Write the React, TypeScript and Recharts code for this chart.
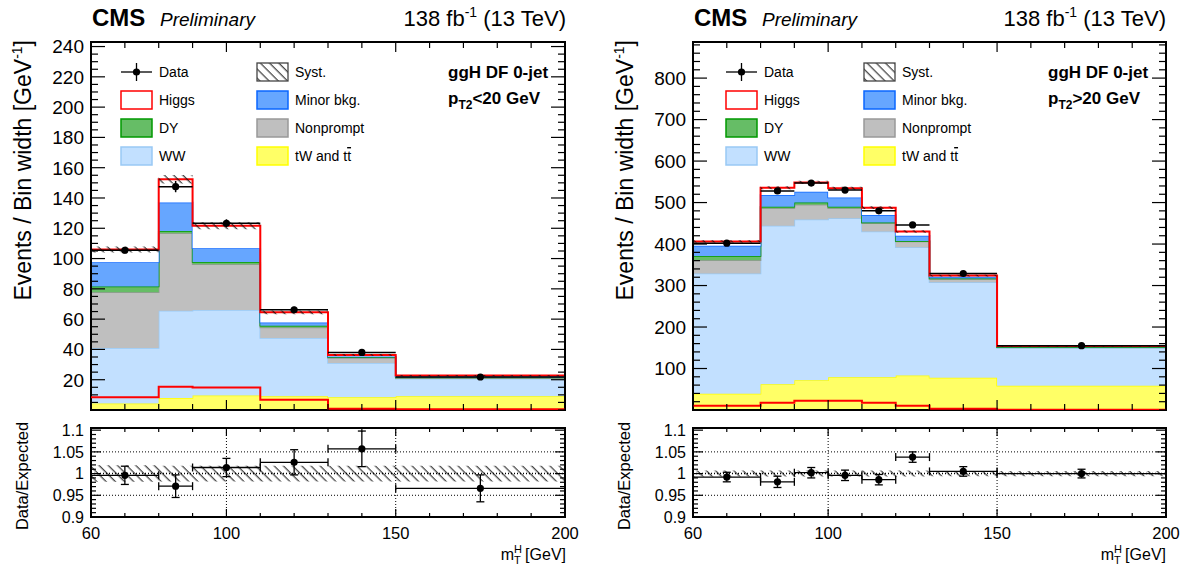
import React from 'react';
import { Area, ComposedChart, ErrorBar, Line, ReferenceArea, ReferenceLine, Scatter, XAxis, YAxis } from 'recharts';

const FONT = '"Liberation Sans", Arial, Helvetica, sans-serif';

const TT_FILL = '#ffff66';
const TT_LINE = '#ffff00';
const WW_FILL = '#c2e0ff';
const WW_LINE = '#99c9f5';
const NP_FILL = '#bfbfbf';
const NP_LINE = '#999999';
const DY_FILL = '#66bd66';
const DY_LINE = '#009900';
const MINOR_FILL = '#66a6ff';
const MINOR_LINE = '#0a66ff';
const HIGGS_LINE = '#ff0000';

// left: ggH DF 0-jet, pT2 < 20 GeV
const edgesL = [60, 80, 90, 110, 130, 150, 200];
const ttL = [4.3, 7.9, 9.5, 9.0, 8.4, 9.0];
const wwL = [36.6, 57.6, 56.5, 38.5, 22.6, 11.7];
const npL = [36.9, 51.2, 30.3, 7.0, 3.3, 0.5];
const dyL = [3.7, 1.5, 1.5, 1.1, 0.7, 0.3];
const minorL = [16.1, 18.8, 9.0, 2.2, 0.4, 0.7];
const higgsL = [8.4, 15.3, 14.8, 6.7, 0.9, 0.5];
const systL = [2.0, 2.8, 2.3, 1.2, 0.7, 0.4];
const dataL = [105.5, 147.5, 123.3, 66.2, 38.0, 21.8];
const dataErrL = [2.1, 3.7, 2.6, 1.9, 1.5, 0.7];
const ratioL = [0.996, 0.971, 1.014, 1.026, 1.057, 0.966];
const ratioErrL = [0.021, 0.026, 0.021, 0.029, 0.041, 0.031];
const ratioSystL = [0.019, 0.018, 0.018, 0.018, 0.018, 0.018];

// right: ggH DF 0-jet, pT2 > 20 GeV
const edgesR = [60, 80, 90, 100, 110, 120, 130, 150, 200];
const ttR = [39.4, 62, 72, 79, 79, 83, 78, 58.6];
const wwR = [289.6, 382, 387, 383, 351, 309, 230, 90];
const npR = [32, 42, 36, 24, 20, 14, 8, 2.4];
const dyR = [10, 4, 5, 4, 2, 1.5, 1, 0.5];
const minorR = [25, 28, 26, 22, 18, 12.5, 4, 2];
const higgsR = [10.4, 17.7, 22.5, 22.5, 17.7, 10.4, 3, 0.8];
const systR = [2.8, 3.8, 3.8, 3.7, 3.4, 3.0, 2.2, 1.1];
const dataR = [402, 528, 547, 530, 480, 446, 329, 155];
const dataErrR = [4.2, 6.5, 6.6, 6.4, 6.1, 5.8, 3.6, 1.6];
const ratioR = [0.992, 0.981, 1.002, 0.996, 0.986, 1.038, 1.005, 1.0];
const ratioErrR = [0.011, 0.013, 0.012, 0.012, 0.012, 0.012, 0.011, 0.01];
const ratioSystR = [0.007, 0.007, 0.007, 0.007, 0.007, 0.007, 0.006, 0.006];

const yMajorL = [20, 40, 60, 80, 100, 120, 140, 160, 180, 200, 220, 240];
const yMajorR = [100, 200, 300, 400, 500, 600, 700, 800];
const ratioMajor = [0.9, 0.95, 1, 1.05, 1.1];
const xMajor = [60, 100, 150, 200];

function tickList(lo: number, hi: number, step: number) {
  const out: number[] = [];
  for (let v = lo; v <= hi + 1e-9; v += step) out.push(Math.round(v * 1000) / 1000);
  return out;
}
const isMajor = (majors: number[], v: number) => majors.some((m) => Math.abs(m - v) < 1e-6);

const makeYTick = (majors: number[], x0: number, x1: number, majLen: number, minLen: number, fs: number) =>
  (p: any) => {
    const v = p.payload.value;
    const maj = isMajor(majors, v);
    const len = maj ? majLen : minLen;
    return (
      <g>
        <line x1={x0} x2={x0 + len} y1={p.y} y2={p.y} stroke="#000" strokeWidth={1.2} />
        <line x1={x1 - len} x2={x1} y1={p.y} y2={p.y} stroke="#000" strokeWidth={1.2} />
        {maj && (
          <text x={x0 - 7} y={p.y} dy="0.36em" textAnchor="end" fontSize={fs} fontFamily={FONT} fill="#000">
            {String(v)}
          </text>
        )}
      </g>
    );
  };

const makeXTick = (y0: number, y1: number, majLen: number, minLen: number, labels: boolean) =>
  (p: any) => {
    const v = p.payload.value;
    const maj = isMajor(xMajor, v) && v !== 60 && v !== 200;
    const len = maj ? majLen : minLen;
    return (
      <g>
        <line x1={p.x} x2={p.x} y1={y1} y2={y1 - len} stroke="#000" strokeWidth={1.2} />
        <line x1={p.x} x2={p.x} y1={y0} y2={y0 + len} stroke="#000" strokeWidth={1.2} />
        {labels && isMajor(xMajor, v) && (
          <text x={p.x} y={y1 + 22} textAnchor="middle" fontSize={16.5} fontFamily={FONT} fill="#000">
            {String(v)}
          </text>
        )}
      </g>
    );
  };

interface PanelData {
  edges: number[];
  tt: number[];
  ww: number[];
  np: number[];
  dy: number[];
  minor: number[];
  higgs: number[];
  syst: number[];
  data: number[];
  dataErr: number[];
  ratio: number[];
  ratioErr: number[];
  ratioSyst: number[];
  yMax: number;
  yMajor: number[];
  yStep: number;
}

const panelL: PanelData = {
  edges: edgesL, tt: ttL, ww: wwL, np: npL, dy: dyL, minor: minorL, higgs: higgsL, syst: systL,
  data: dataL, dataErr: dataErrL, ratio: ratioL, ratioErr: ratioErrL, ratioSyst: ratioSystL,
  yMax: 243, yMajor: yMajorL, yStep: 5,
};
const panelR: PanelData = {
  edges: edgesR, tt: ttR, ww: wwR, np: npR, dy: dyR, minor: minorR, higgs: higgsR, syst: systR,
  data: dataR, dataErr: dataErrR, ratio: ratioR, ratioErr: ratioErrR, ratioSyst: ratioSystR,
  yMax: 887, yMajor: yMajorR, yStep: 20,
};

const Hatch = ({ id }: { id: string }) => (
  <defs>
    <pattern id={id} patternUnits="userSpaceOnUse" width="6.5" height="6.5" patternTransform="rotate(-45)">
      <line x1="3" y1="0" x2="3" y2="6.5" stroke="#111" strokeWidth="1" />
    </pattern>
  </defs>
);

const AX = 60; // y-axis width inside chart

const Panel = ({ d, left, width, id }: { d: PanelData; left: number; width: number; id: string }) => {
  const nb = d.tt.length;
  const rows = d.edges.map((x, i) => {
    const b = Math.min(i, nb - 1);
    const top = d.tt[b] + d.ww[b] + d.np[b] + d.dy[b] + d.minor[b] + d.higgs[b];
    return {
      x,
      tt: d.tt[b], ww: d.ww[b], np: d.np[b], dy: d.dy[b], minor: d.minor[b], higgs: d.higgs[b],
      hline: d.higgs[b],
      syst: [top - d.syst[b], top + d.syst[b]],
    };
  });
  const pts = d.data.map((y, i) => ({
    x: (d.edges[i] + d.edges[i + 1]) / 2,
    y,
    ex: (d.edges[i + 1] - d.edges[i]) / 2,
    ey: d.dataErr[i],
  }));
  const rRows = d.edges.map((x, i) => {
    const b = Math.min(i, nb - 1);
    return { x, band: [1 - d.ratioSyst[b], 1 + d.ratioSyst[b]] };
  });
  const rPts = d.ratio.map((y, i) => ({
    x: (d.edges[i] + d.edges[i + 1]) / 2,
    y,
    ex: (d.edges[i + 1] - d.edges[i]) / 2,
    ey: d.ratioErr[i],
  }));
  const cw = width + AX + 20;
  const x0 = AX;
  const x1 = AX + width;
  return (
    <>
      <div style={{ position: 'absolute', left: left - AX, top: 0 }}>
        <ComposedChart width={cw} height={420} data={rows} margin={{ top: 42, right: 20, bottom: 0, left: 0 }}>
          <Hatch id={`h-${id}`} />
          <XAxis dataKey="x" type="number" domain={[60, 200]} allowDataOverflow ticks={tickList(60, 200, 10)}
            interval={0} height={10} axisLine={false} tickLine={false} tick={makeXTick(42, 410, 10, 6, false)} />
          <YAxis type="number" domain={[0, d.yMax]} allowDataOverflow ticks={tickList(0, d.yMax, d.yStep)}
            interval={0} width={AX} axisLine={false} tickLine={false} tick={makeYTick(d.yMajor, x0, x1, 14, 7, 19)} />
          <Area dataKey="tt" stackId="s" type="stepAfter" fill={TT_FILL} fillOpacity={1} stroke={TT_LINE} strokeWidth={1.5} isAnimationActive={false} />
          <Area dataKey="ww" stackId="s" type="stepAfter" fill={WW_FILL} fillOpacity={1} stroke={WW_LINE} strokeWidth={1.5} isAnimationActive={false} />
          <Area dataKey="np" stackId="s" type="stepAfter" fill={NP_FILL} fillOpacity={1} stroke={NP_LINE} strokeWidth={1.5} isAnimationActive={false} />
          <Area dataKey="dy" stackId="s" type="stepAfter" fill={DY_FILL} fillOpacity={1} stroke={DY_LINE} strokeWidth={1.5} isAnimationActive={false} />
          <Area dataKey="minor" stackId="s" type="stepAfter" fill={MINOR_FILL} fillOpacity={1} stroke={MINOR_LINE} strokeWidth={1.5} isAnimationActive={false} />
          <Area dataKey="higgs" stackId="s" type="stepAfter" fill="#ffffff" fillOpacity={1} stroke={HIGGS_LINE} strokeWidth={2} isAnimationActive={false} />
          <Area dataKey="syst" type="stepAfter" fill={`url(#h-${id})`} fillOpacity={1} stroke="none" isAnimationActive={false} />
          <Line dataKey="hline" type="stepAfter" stroke={HIGGS_LINE} strokeWidth={2} dot={false} isAnimationActive={false} />
          <Scatter data={pts} dataKey="y" fill="#000" isAnimationActive={false}
            shape={(p: any) => <circle cx={p.cx} cy={p.cy} r={3.6} fill="#000" />}>
            <ErrorBar dataKey="ex" direction="x" width={0} stroke="#000" strokeWidth={1.5} isAnimationActive={false} />
            <ErrorBar dataKey="ey" direction="y" width={0} stroke="#000" strokeWidth={1.5} isAnimationActive={false} />
          </Scatter>
          <ReferenceArea x1={60} x2={200} y1={0} y2={d.yMax} fill="none" fillOpacity={0} stroke="#000" strokeWidth={2} />
        </ComposedChart>
      </div>
      <div style={{ position: 'absolute', left: left - AX, top: 420 }}>
        <ComposedChart width={cw} height={152} data={rRows} margin={{ top: 8, right: 20, bottom: 0, left: 0 }}>
          <Hatch id={`hr-${id}`} />
          <XAxis dataKey="x" type="number" domain={[60, 200]} allowDataOverflow ticks={tickList(60, 200, 10)}
            interval={0} height={55} axisLine={false} tickLine={false} tick={makeXTick(8, 97, 8, 4, true)} />
          <YAxis type="number" domain={[0.9, 1.105]} allowDataOverflow ticks={tickList(0.9, 1.1, 0.01)}
            interval={0} width={AX} axisLine={false} tickLine={false} tick={makeYTick(ratioMajor, x0, x1, 10, 5, 16)} />
          <ReferenceLine y={1.05} stroke="#000" strokeDasharray="1 2" />
          <ReferenceLine y={1} stroke="#000" strokeDasharray="1 2" strokeWidth={1.5} />
          <ReferenceLine y={0.95} stroke="#000" strokeDasharray="1 2" />
          <ReferenceLine x={100} stroke="#000" strokeDasharray="1 2" />
          <ReferenceLine x={150} stroke="#000" strokeDasharray="1 2" />
          <Area dataKey="band" type="stepAfter" fill={`url(#hr-${id})`} fillOpacity={1} stroke="none" isAnimationActive={false} />
          <Scatter data={rPts} dataKey="y" fill="#000" isAnimationActive={false}
            shape={(p: any) => <circle cx={p.cx} cy={p.cy} r={3.6} fill="#000" />}>
            <ErrorBar dataKey="ex" direction="x" width={4} stroke="#000" strokeWidth={1.3} isAnimationActive={false} />
            <ErrorBar dataKey="ey" direction="y" width={4} stroke="#000" strokeWidth={1.3} isAnimationActive={false} />
          </Scatter>
          <ReferenceArea x1={60} x2={200} y1={0.9} y2={1.105} fill="none" fillOpacity={0} stroke="#000" strokeWidth={2} />
        </ComposedChart>
      </div>
    </>
  );
};

const legendRowsY = [72, 100, 128, 156];

const Legend = ({ c0, c1, hid }: { c0: number; c1: number; hid: string }) => {
  const boxes = [
    { label: 'Higgs', fill: '#ffffff', stroke: HIGGS_LINE, x: c0, r: 1 },
    { label: 'DY', fill: DY_FILL, stroke: DY_LINE, x: c0, r: 2 },
    { label: 'WW', fill: WW_FILL, stroke: WW_LINE, x: c0, r: 3 },
    { label: 'Minor bkg.', fill: MINOR_FILL, stroke: MINOR_LINE, x: c1, r: 1 },
    { label: 'Nonprompt', fill: NP_FILL, stroke: NP_LINE, x: c1, r: 2 },
  ];
  const ty = (r: number) => legendRowsY[r] + 5;
  return (
    <g fontFamily={FONT} fontSize={14}>
      <line x1={c0} x2={c0 + 31} y1={legendRowsY[0]} y2={legendRowsY[0]} stroke="#000" strokeWidth={1.3} />
      <line x1={c0 + 15.5} x2={c0 + 15.5} y1={legendRowsY[0] - 9} y2={legendRowsY[0] + 9} stroke="#000" strokeWidth={1.3} />
      <circle cx={c0 + 15.5} cy={legendRowsY[0]} r={3.6} fill="#000" />
      <text x={c0 + 38} y={ty(0)}>Data</text>
      <rect x={c1} y={legendRowsY[0] - 9} width={31} height={18} fill={`url(#${hid})`} stroke="#444" strokeWidth={1.3} />
      <text x={c1 + 38} y={ty(0)}>Syst.</text>
      {boxes.map((b) => (
        <g key={b.label}>
          <rect x={b.x} y={legendRowsY[b.r] - 9} width={31} height={18} fill={b.fill} stroke={b.stroke} strokeWidth={1.5} />
          <text x={b.x + 38} y={ty(b.r)}>{b.label}</text>
        </g>
      ))}
      <rect x={c1} y={legendRowsY[3] - 9} width={31} height={18} fill={TT_FILL} stroke={TT_LINE} strokeWidth={1.5} />
      <text x={c1 + 38} y={ty(3)}>
        tW and t<tspan style={{ textDecoration: 'overline' }}>t</tspan>
      </text>
    </g>
  );
};

const Titles = ({ left, right, yTitleX, cut }: { left: number; right: number; yTitleX: number; cut: string }) => (
  <g fontFamily={FONT} fill="#000">
    <text x={left + 1} y={26} fontSize={24} fontWeight="bold">CMS</text>
    <text x={left + 69} y={26} fontSize={19} fontStyle="italic">Preliminary</text>
    <text x={right} y={26} fontSize={22} textAnchor="end">
      138 fb<tspan fontSize={14} dy={-9}>-1</tspan>
      <tspan dy={9}> (13 TeV)</tspan>
    </text>
    <text transform={`translate(${yTitleX},40) rotate(-90)`} fontSize={23} textAnchor="end">
      Events / Bin width [GeV<tspan fontSize={14} dy={-9}>-1</tspan>
      <tspan dy={9}>]</tspan>
    </text>
    <text transform={`translate(${yTitleX - 3},476) rotate(-90)`} fontSize={16.5} textAnchor="middle">
      Data/Expected
    </text>
    <text x={right} y={560} fontSize={16} textAnchor="end">
      m<tspan fontSize={11} dy={-7}>H</tspan>
      <tspan fontSize={11} dx={-8} dy={11}>T</tspan>
      <tspan dy={-4}> [GeV]</tspan>
    </text>
    <text x={right - 118} y={78} fontSize={17} fontWeight="bold">ggH DF 0-jet</text>
    <text x={right - 118} y={104} fontSize={17} fontWeight="bold">
      p<tspan fontSize={12} dy={5}>T2</tspan>
      <tspan dy={-5}>{cut}</tspan>
    </text>
  </g>
);

export default function App() {
  return (
    <div style={{ position: 'absolute', left: 0, top: 0, width: 1190, height: 572, background: '#fff', overflow: 'hidden', fontFamily: FONT }}>
      <Panel d={panelL} left={91} width={474} id="l" />
      <Panel d={panelR} left={693} width={473} id="r" />
      <svg width={1190} height={572} style={{ position: 'absolute', left: 0, top: 0, pointerEvents: 'none' }}>
        <Hatch id="h-leg" />
        <Titles left={91} right={566} yTitleX={31} cut="<20 GeV" />
        <Titles left={693} right={1166} yTitleX={633} cut=">20 GeV" />
        <Legend c0={121} c1={257} hid="h-leg" />
        <Legend c0={726} c1={864} hid="h-leg" />
      </svg>
    </div>
  );
}
